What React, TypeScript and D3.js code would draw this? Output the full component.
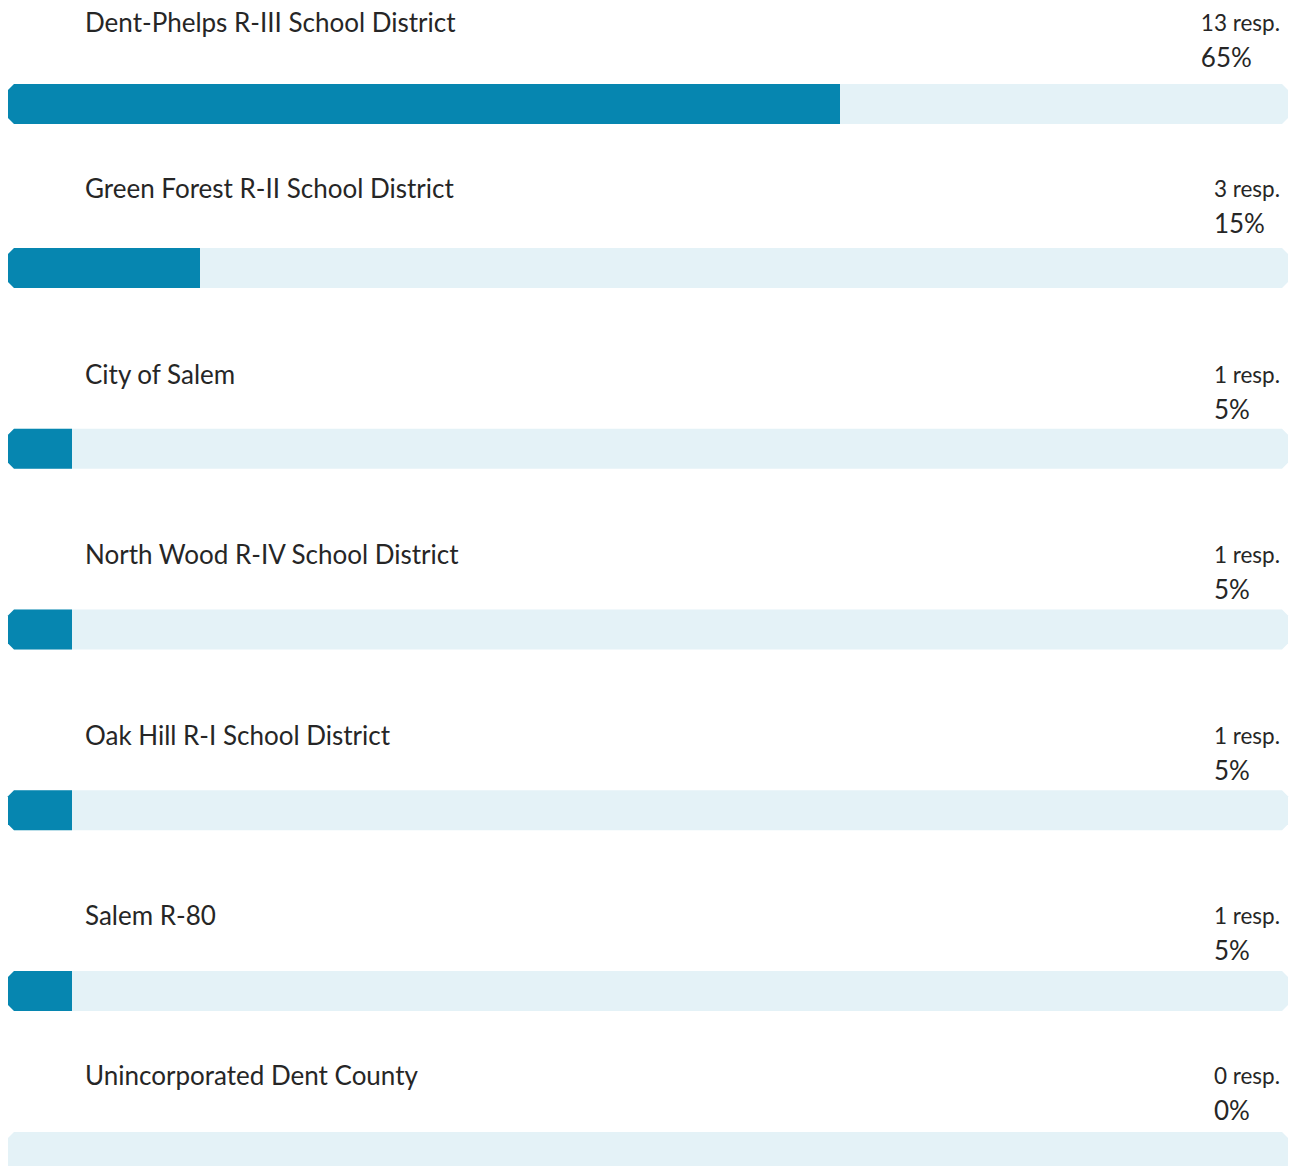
import React from "react";
import * as d3 from "d3";

const categories = [
  "Dent-Phelps R-III School District",
  "Green Forest R-II School District",
  "City of Salem",
  "North Wood R-IV School District",
  "Oak Hill R-I School District",
  "Salem R-80",
  "Unincorporated Dent County",
];
const responses = [13, 3, 1, 1, 1, 1, 0];
const percents = [65, 15, 5, 5, 5, 5, 0];

const W = 1290;
const H = 1166;
const BAR_H = 40;
const C = 6; // chamfer

function chamferPath(x0: number, x1: number, y0: number, h: number, left: boolean, right: boolean) {
  const y1 = y0 + h;
  const p = d3.path();
  if (left) {
    p.moveTo(x0 + C, y0);
  } else {
    p.moveTo(x0, y0);
  }
  if (right) {
    p.lineTo(x1 - C, y0);
    p.lineTo(x1, y0 + C);
    p.lineTo(x1, y1 - C);
    p.lineTo(x1 - C, y1);
  } else {
    p.lineTo(x1, y0);
    p.lineTo(x1, y1);
  }
  if (left) {
    p.lineTo(x0 + C, y1);
    p.lineTo(x0, y1 - C);
    p.lineTo(x0, y0 + C);
  } else {
    p.lineTo(x0, y1);
  }
  p.closePath();
  return p.toString();
}

export default function App() {
  const x = d3.scaleLinear().domain([0, 100]).range([8, 1288]);
  const y = d3.scaleLinear().domain([0, 1, 5, 6]).range([84, 248, 971, 1132]);
  const ty = d3.scaleLinear().domain([0, 1, 2, 5, 6]).range([32, 198, 384, 925, 1085]);
  const font = "Lato, 'Open Sans', sans-serif";
  return (
    <svg width={W} height={H} style={{ position: "absolute", left: 0, top: 0, display: "block" }}>
      <rect width={W} height={H} fill="#ffffff" />
      {categories.map((cat, i) => {
        const top = y(i);
        const base = ty(i);
        return (
          <g key={cat}>
            <text x={85} y={base} fontFamily={font} fontSize={26} fill="#262626">
              {cat}
            </text>
            <text x={1280} y={base - 1} fontFamily={font} fontSize={22.5} fill="#262626" textAnchor="end">
              {`${responses[i]} resp.`}
            </text>
            <text
              x={1214}
              y={base + 35}
              fontFamily={font}
              fontSize={26}
              fill="#262626"
              textAnchor="start"
              ref={(el) => {
                if (!el) return;
                const sib = el.previousSibling as SVGTextElement;
                if (sib && sib.getBBox) {
                  el.setAttribute("x", String(sib.getBBox().x));
                }
              }}
            >
              {`${percents[i]}%`}
            </text>
            <path d={chamferPath(x(0), x(100), top, BAR_H, true, true)} fill="#E4F2F7" />
            {percents[i] > 0 && (
              <path d={chamferPath(x(0), x(percents[i]), top, BAR_H, true, false)} fill="#0686B0" />
            )}
          </g>
        );
      })}
    </svg>
  );
}
